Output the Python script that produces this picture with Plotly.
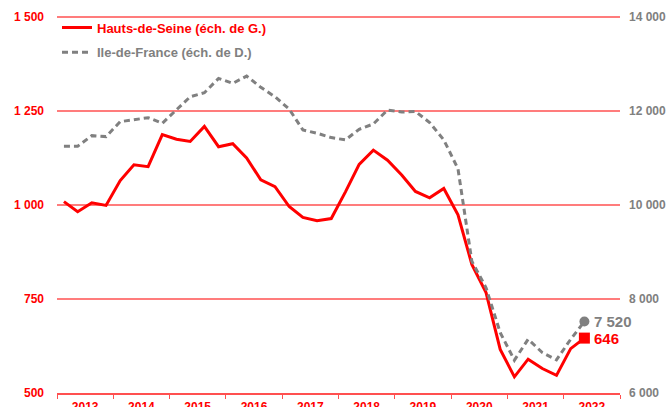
import plotly.graph_objects as go

# Quarterly data, 2013 Q1 .. 2022 Q2
years = list(range(2013, 2023))
quarter_mid = ["02-15", "05-15", "08-15", "11-15"]
dates = [f"{y}-{q}" for y in years for q in quarter_mid][:38]

hauts_de_seine = [1009, 982, 1006, 999, 1065, 1107, 1102, 1187, 1175, 1169,
                  1209, 1155, 1163, 1125, 1067, 1049, 996, 967, 958, 964,
                  1035, 1108, 1146, 1119, 1080, 1036, 1019, 1044, 974, 842,
                  767, 616, 543, 590, 565, 547, 618, 646]

ile_de_france = [11251, 11251, 11476, 11455, 11773, 11809, 11858, 11739, 12021, 12303,
                 12388, 12694, 12588, 12743, 12503, 12303, 12040, 11597, 11527, 11434,
                 11385, 11612, 11724, 12021, 11979, 11990, 11756, 11385, 10770, 8804,
                 8240, 7285, 6698, 7143, 6861, 6704, 7143, 7520]

left_ticks = [500, 750, 1000, 1250, 1500]
right_ticks = [6000, 8000, 10000, 12000, 14000]
LEFT_RANGE = [500, 1500]
RIGHT_RANGE = [6000, 14000]

RED = "#FF0000"
GREY = "#808080"
GRID = "rgb(255,80,80)"
FONT = "Liberation Sans"

fig = go.Figure()
fig.add_trace(go.Scatter(
    x=dates, y=hauts_de_seine, mode="lines",
    name=f"<span style='color:{RED}'><b>Hauts-de-Seine (éch. de G.)</b></span>",
    line=dict(color=RED, width=3), legendgroup="a", yaxis="y"))
fig.add_trace(go.Scatter(
    x=dates, y=ile_de_france, mode="lines",
    name=f"<span style='color:{GREY}'><b>Ile-de-France (éch. de D.)</b></span>",
    line=dict(color=GREY, width=3, dash="6px,4px"), legendgroup="b", yaxis="y2"))
# end markers
fig.add_trace(go.Scatter(
    x=[dates[-1]], y=[ile_de_france[-1]], mode="markers", showlegend=False,
    marker=dict(symbol="circle", size=10, color=GREY), yaxis="y2", hoverinfo="skip"))
fig.add_trace(go.Scatter(
    x=[dates[-1]], y=[hauts_de_seine[-1]], mode="markers", showlegend=False,
    marker=dict(symbol="square", size=11, color=RED), yaxis="y", hoverinfo="skip"))

fig.add_annotation(x=dates[-1], y=ile_de_france[-1], yref="y2", xref="x",
                   text=f"{ile_de_france[-1]:,}".replace(",", " "), showarrow=False,
                   xanchor="left", xshift=8,
                   font=dict(family=FONT, size=15, color=GREY, weight="bold"))
fig.add_annotation(x=dates[-1], y=hauts_de_seine[-1], yref="y", xref="x",
                   text=f"{hauts_de_seine[-1]:,}".replace(",", " "), showarrow=False,
                   xanchor="left", xshift=8,
                   font=dict(family=FONT, size=15, color=RED, weight="bold"))

# horizontal gridlines at the left-axis ticks (paper refs so the top one is not clipped)
for v in left_ticks[1:]:
    yp = (v - LEFT_RANGE[0]) / (LEFT_RANGE[1] - LEFT_RANGE[0])
    fig.add_shape(type="line", xref="paper", x0=0, x1=1, yref="paper", y0=yp, y1=yp,
                  line=dict(color=GRID, width=1.3), layer="below")

fig.update_layout(
    template="none",
    width=670, height=407,
    margin=dict(l=57, r=50, t=17, b=14),
    paper_bgcolor="white", plot_bgcolor="white",
    separators=", ",
    font=dict(family=FONT, size=12),
    showlegend=True,
    legend=dict(x=0.0, y=1.012, xanchor="left", yanchor="top",
                bgcolor="rgba(0,0,0,0)", tracegroupgap=5, itemwidth=30,
                font=dict(family=FONT, size=13)),
    xaxis=dict(
        type="date", range=["2013-01-01", "2023-01-01"],
        dtick="M12", tick0="2013-01-01", tickformat="%Y", ticklabelmode="period",
        ticks="outside", ticklen=4, tickcolor=GRID, tickwidth=1,
        showline=True, linecolor=GRID, linewidth=1.5, mirror=False,
        showgrid=False, zeroline=False, automargin=False, ticklabelstandoff=-2,
        tickfont=dict(family=FONT, size=12, color=RED, weight="bold"),
    ),
    yaxis=dict(
        range=LEFT_RANGE, tickvals=left_ticks, tickformat=",d",
        showgrid=False, zeroline=False, showline=False,
        ticks="", ticklabelstandoff=12, automargin=False,
        tickfont=dict(family=FONT, size=12, color=RED, weight="bold"),
    ),
    yaxis2=dict(
        range=RIGHT_RANGE, tickvals=right_ticks, tickformat=",d",
        overlaying="y", side="right", showgrid=False, zeroline=False, showline=False,
        ticks="", ticklabelstandoff=8, automargin=False,
        tickfont=dict(family=FONT, size=12, color=GREY, weight="bold"),
    ),
)

fig.write_html("out.html", config={"displayModeBar": False},
               post_script="document.body.style.margin='0';")
